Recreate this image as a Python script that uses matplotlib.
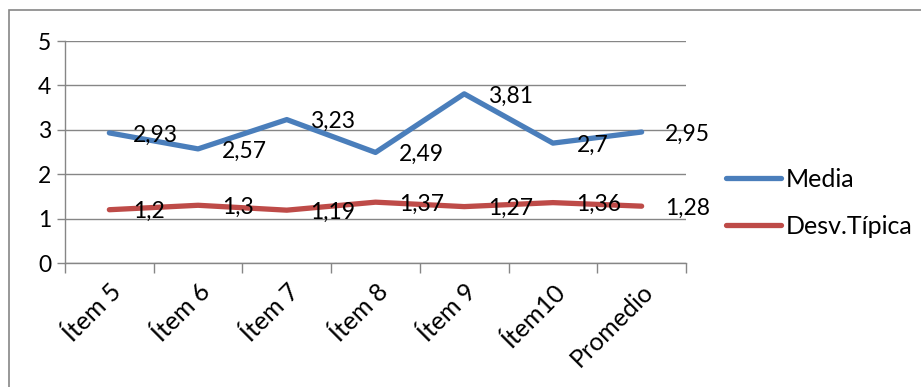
import matplotlib
matplotlib.use("Agg")
import matplotlib.pyplot as plt
from matplotlib.patches import Rectangle

plt.rcParams['font.family'] = ['Lato', 'DejaVu Sans']

# Chart data
categorias = ["Ítem 5", "Ítem 6", "Ítem 7", "Ítem 8", "Ítem 9", "Ítem10", "Promedio"]
media = [2.93, 2.57, 3.23, 2.49, 3.81, 2.70, 2.95]
desv_tipica = [1.20, 1.30, 1.19, 1.37, 1.27, 1.36, 1.28]
etiquetas_media = ["2,93", "2,57", "3,23", "2,49", "3,81", "2,7", "2,95"]
etiquetas_desv = ["1,2", "1,3", "1,19", "1,37", "1,27", "1,36", "1,28"]

azul = "#4A7EBB"
rojo = "#BE4B48"
gris = "#868686"
fs = 16.5       # numbers
fs_txt = 18     # words (category labels, legend)

W, H = 921, 387
fig = plt.figure(figsize=(W / 100, H / 100), dpi=100)
ax = fig.add_axes([65 / W, 1 - 263 / H, (686 - 65) / W, (263 - 41) / H])

# outer chart frame
fig.patches.append(Rectangle((9 / W, -0.2), 1.2, 1.2 - 10 / H,
                             transform=fig.transFigure, fill=False,
                             edgecolor=gris, linewidth=1.2))

x = list(range(len(categorias)))
ax.plot(x, media, color=azul, linewidth=3.8, solid_capstyle='round', label="Media", zorder=3)
ax.plot(x, desv_tipica, color=rojo, linewidth=3.8, solid_capstyle='round', label="Desv.Típica", zorder=3)

for xi, v, t in zip(x, media, etiquetas_media):
    ax.annotate(t, (xi, v), xytext=(17, -1.5), textcoords='offset points',
                ha='left', va='center', fontsize=fs, zorder=4)
for xi, v, t in zip(x, desv_tipica, etiquetas_desv):
    ax.annotate(t, (xi, v), xytext=(17, -1.5), textcoords='offset points',
                ha='left', va='center', fontsize=fs, zorder=4)

ax.set_xlim(-0.5, len(categorias) - 0.5)
ax.set_ylim(0, 5)
ax.set_yticks(range(6))
ax.tick_params(axis='y', length=6, color=gris, width=1, labelsize=fs, pad=4)
ax.yaxis.grid(True, color=gris, linewidth=1)
ax.set_axisbelow(True)

ax.set_xticks(x)
ax.set_xticklabels(categorias, rotation=45, ha='right', rotation_mode='anchor', fontsize=fs_txt)
ax.tick_params(axis='x', length=0, pad=12)
ax.set_xticks([i - 0.5 for i in range(len(categorias) + 1)], minor=True)
ax.tick_params(axis='x', which='minor', length=7, color=gris, width=1)

for s in ['top', 'right']:
    ax.spines[s].set_visible(False)
for s in ['left', 'bottom']:
    ax.spines[s].set_color(gris)
    ax.spines[s].set_linewidth(1)

fig.legend(loc='center left', bbox_to_anchor=(726 / W, 1 - 203 / H), frameon=False,
           borderpad=0, borderaxespad=0, fontsize=fs_txt, handlelength=2.2,
           handletextpad=0.2, labelspacing=0.95)

fig.savefig("out.png", dpi=100)
